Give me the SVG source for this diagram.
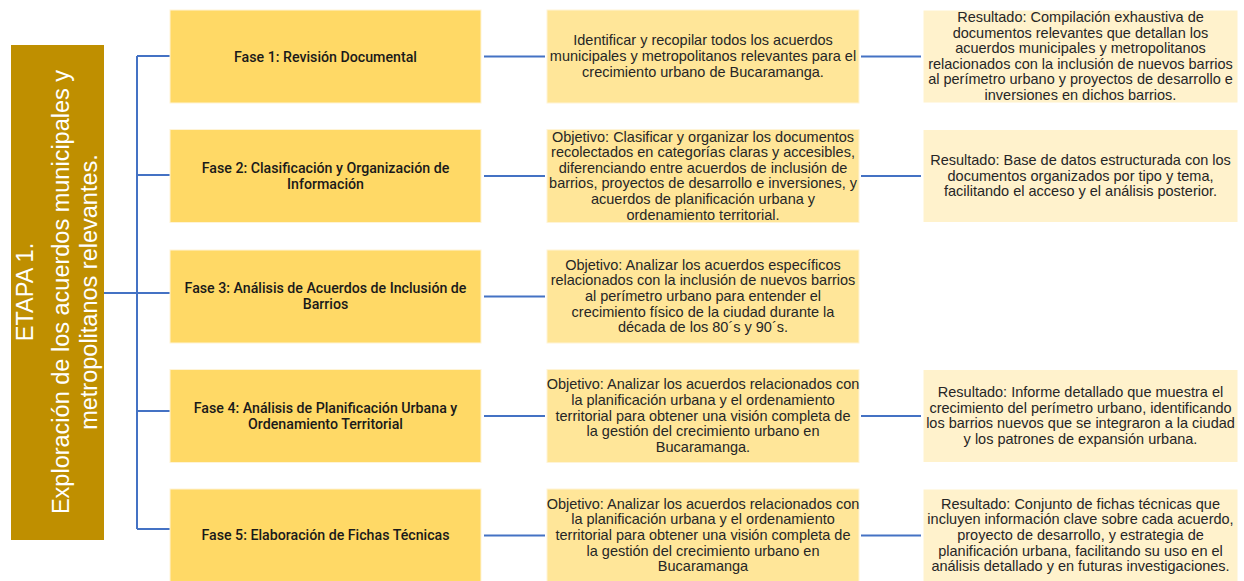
<svg xmlns="http://www.w3.org/2000/svg" width="1244" height="581" viewBox="0 0 1244 581">
<style>
.etapa{fill:#BF8F00;}
.b1{fill:#FFD966;stroke:#FFF4D6;stroke-width:1;}
.b2{fill:#FFE699;stroke:#FFF4D6;stroke-width:1;}
.b3{fill:#FFF2CC;stroke:#FFFFFF;stroke-width:1;}
.t1{font-family:Roboto,"Liberation Sans",sans-serif;font-weight:500;font-size:14.2px;fill:#1a1a1a;text-anchor:middle;}
.t2{font-family:"Liberation Sans",Arial,sans-serif;font-size:14.5px;fill:#262626;text-anchor:middle;}
.tw{font-family:"Liberation Sans",Arial,sans-serif;font-size:23.5px;fill:#ffffff;text-anchor:middle;}
.c{stroke:#4472C4;stroke-width:2;fill:none;}
</style>
<rect width="1244" height="581" fill="#ffffff"/>
<g id="etapa">
<rect class="etapa" x="11" y="45" width="93" height="495"/>
<g transform="translate(0,292) rotate(-90)">
<text class="tw" x="0" y="33">ETAPA 1.</text>
<text class="tw" x="0" y="69">Exploración de los acuerdos municipales y</text>
<text class="tw" x="0" y="97">metropolitanos relevantes.</text>
</g>
</g>
<g id="connectors">
<path class="c" d="M104 293H137M137 56V529M137 56H170M137 175H170M137 293H170M137 411H170M137 529H170"/>
<path class="c" d="M484 56.5H545M484 176H545M484 296.5H545M484 416H545M484 535.5H545"/>
<path class="c" d="M861 56.5H921M861 176H921M861 416H921M861 535.5H921"/>
</g>
<g id="fase1">
<rect class="b1" x="170" y="10" width="311" height="93"/>
<text class="t1" x="325.5" y="61.5">Fase 1: Revisión Documental</text>
</g>
<g id="fase2">
<rect class="b1" x="170" y="129.5" width="311" height="93"/>
<text class="t1" x="325.5" y="172.5">Fase 2: Clasificación y Organización de</text>
<text class="t1" x="325.5" y="188.5">Información</text>
</g>
<g id="fase3">
<rect class="b1" x="170" y="250" width="311" height="93"/>
<text class="t1" x="325.5" y="293">Fase 3: Análisis de Acuerdos de Inclusión de</text>
<text class="t1" x="325.5" y="309">Barrios</text>
</g>
<g id="fase4">
<rect class="b1" x="170" y="369.5" width="311" height="93"/>
<text class="t1" x="325.5" y="412.5">Fase 4: Análisis de Planificación Urbana y</text>
<text class="t1" x="325.5" y="428.5">Ordenamiento Territorial</text>
</g>
<g id="fase5">
<rect class="b1" x="170" y="489" width="311" height="93"/>
<text class="t1" x="325.5" y="540">Fase 5: Elaboración de Fichas Técnicas</text>
</g>
<g id="obj1">
<rect class="b2" x="547" y="10" width="312" height="93"/>
<text class="t2" x="703" y="45.4">Identificar y recopilar todos los acuerdos</text>
<text class="t2" x="703" y="61">municipales y metropolitanos relevantes para el</text>
<text class="t2" x="703" y="76.6">crecimiento urbano de Bucaramanga.</text>
</g>
<g id="obj2">
<rect class="b2" x="547" y="129.5" width="312" height="93"/>
<text class="t2" x="703" y="141.5">Objetivo: Clasificar y organizar los documentos</text>
<text class="t2" x="703" y="157.1">recolectados en categorías claras y accesibles,</text>
<text class="t2" x="703" y="172.7">diferenciando entre acuerdos de inclusión de</text>
<text class="t2" x="703" y="188.3">barrios, proyectos de desarrollo e inversiones, y</text>
<text class="t2" x="703" y="203.9">acuerdos de planificación urbana y</text>
<text class="t2" x="703" y="219.5">ordenamiento territorial.</text>
</g>
<g id="obj3">
<rect class="b2" x="547" y="250" width="312" height="93"/>
<text class="t2" x="703" y="269.8">Objetivo: Analizar los acuerdos específicos</text>
<text class="t2" x="703" y="285.4">relacionados con la inclusión de nuevos barrios</text>
<text class="t2" x="703" y="301">al perímetro urbano para entender el</text>
<text class="t2" x="703" y="316.6">crecimiento físico de la ciudad durante la</text>
<text class="t2" x="703" y="332.2">década de los 80´s y 90´s.</text>
</g>
<g id="obj4">
<rect class="b2" x="547" y="369.5" width="312" height="93"/>
<text class="t2" x="703" y="389.3">Objetivo: Analizar los acuerdos relacionados con</text>
<text class="t2" x="703" y="404.9">la planificación urbana y el ordenamiento</text>
<text class="t2" x="703" y="420.5">territorial para obtener una visión completa de</text>
<text class="t2" x="703" y="436.1">la gestión del crecimiento urbano en</text>
<text class="t2" x="703" y="451.7">Bucaramanga.</text>
</g>
<g id="obj5">
<rect class="b2" x="547" y="489" width="312" height="93"/>
<text class="t2" x="703" y="508.8">Objetivo: Analizar los acuerdos relacionados con</text>
<text class="t2" x="703" y="524.4">la planificación urbana y el ordenamiento</text>
<text class="t2" x="703" y="540">territorial para obtener una visión completa de</text>
<text class="t2" x="703" y="555.6">la gestión del crecimiento urbano en</text>
<text class="t2" x="703" y="571.2">Bucaramanga</text>
</g>
<g id="res1">
<rect class="b3" x="923" y="10" width="315" height="93"/>
<text class="t2" x="1080.5" y="22">Resultado: Compilación exhaustiva de</text>
<text class="t2" x="1080.5" y="37.6">documentos relevantes que detallan los</text>
<text class="t2" x="1080.5" y="53.2">acuerdos municipales y metropolitanos</text>
<text class="t2" x="1080.5" y="68.8">relacionados con la inclusión de nuevos barrios</text>
<text class="t2" x="1080.5" y="84.4">al perímetro urbano y proyectos de desarrollo e</text>
<text class="t2" x="1080.5" y="100">inversiones en dichos barrios.</text>
</g>
<g id="res2">
<rect class="b3" x="923" y="129.5" width="315" height="93"/>
<text class="t2" x="1080.5" y="164.9">Resultado: Base de datos estructurada con los</text>
<text class="t2" x="1080.5" y="180.5">documentos organizados por tipo y tema,</text>
<text class="t2" x="1080.5" y="196.1">facilitando el acceso y el análisis posterior.</text>
</g>
<g id="res4">
<rect class="b3" x="923" y="369.5" width="315" height="93"/>
<text class="t2" x="1080.5" y="397.1">Resultado: Informe detallado que muestra el</text>
<text class="t2" x="1080.5" y="412.7">crecimiento del perímetro urbano, identificando</text>
<text class="t2" x="1080.5" y="428.3">los barrios nuevos que se integraron a la ciudad</text>
<text class="t2" x="1080.5" y="443.9">y los patrones de expansión urbana.</text>
</g>
<g id="res5">
<rect class="b3" x="923" y="489" width="315" height="93"/>
<text class="t2" x="1080.5" y="508.8">Resultado: Conjunto de fichas técnicas que</text>
<text class="t2" x="1080.5" y="524.4">incluyen información clave sobre cada acuerdo,</text>
<text class="t2" x="1080.5" y="540">proyecto de desarrollo, y estrategia de</text>
<text class="t2" x="1080.5" y="555.6">planificación urbana, facilitando su uso en el</text>
<text class="t2" x="1080.5" y="571.2">análisis detallado y en futuras investigaciones.</text>
</g>
</svg>
